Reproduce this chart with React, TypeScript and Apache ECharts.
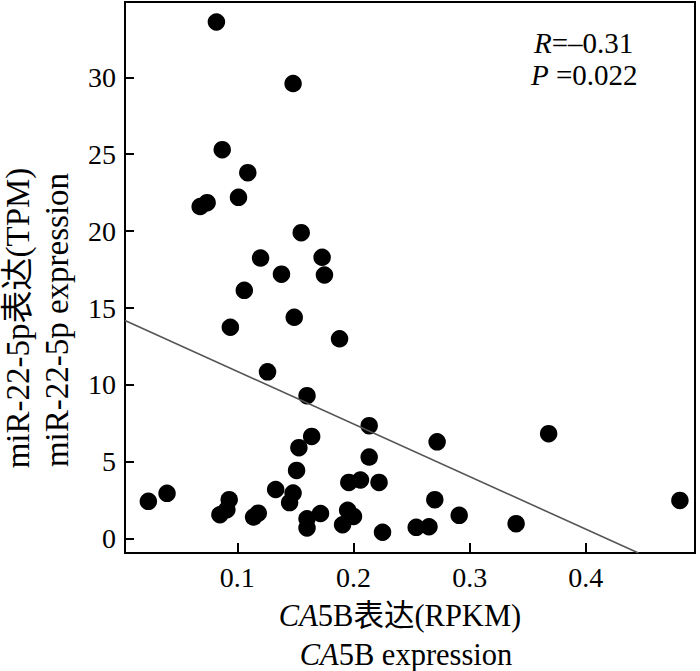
import React, { useEffect, useRef } from "react";
import * as echarts from "echarts";

// CA5B expression (RPKM)
const xValues: number[] = [
  0.082, 0.148, 0.087, 0.109, 0.101, 0.068, 0.074, 0.155, 0.12, 0.173,
  0.138, 0.175, 0.106, 0.149, 0.094, 0.188, 0.126, 0.16, 0.2135, 0.368,
  0.272, 0.164, 0.153, 0.2135, 0.151, 0.196, 0.206, 0.222, 0.133, 0.148,
  0.145, 0.0234, 0.0395, 0.093, 0.091, 0.085, 0.114, 0.118, 0.16, 0.16,
  0.1716, 0.195, 0.2, 0.1906, 0.225, 0.27, 0.481, 0.291, 0.34, 0.254, 0.265,
];
// miR-22-5p expression (TPM)
const yValues: number[] = [
  33.6, 29.6, 25.3, 23.8, 22.2, 21.6, 21.85, 19.9, 18.25, 18.3,
  17.2, 17.15, 16.15, 14.4, 13.75, 13.0, 10.85, 9.3, 7.35, 6.83,
  6.3, 6.65, 5.92, 5.31, 4.44, 3.66, 3.82, 3.66, 3.2, 2.97,
  2.35, 2.43, 2.95, 2.54, 1.89, 1.56, 1.41, 1.66, 1.3, 0.7,
  1.64, 1.85, 1.45, 0.91, 0.42, 2.54, 2.49, 1.52, 0.98, 0.74, 0.78,
];

const xTicks: number[] = [0.1, 0.2, 0.3, 0.4];
const yTicks: number[] = [0, 5, 10, 15, 20, 25, 30];

const xMin = 0.0033;
const xMax = 0.494;
const yMin = -0.93;
const yMax = 34.9;

// linear fit
const fitIntercept = 14.3;
const fitSlope = -34.2;

const statR = "–0.31";
const statP = "0.022";

const FONT = "Liberation Serif, Noto Sans CJK SC, serif";

export default function App() {
  const ref = useRef<HTMLDivElement | null>(null);

  useEffect(() => {
    document.body.style.margin = "0";
    if (!ref.current) return;
    const chart = echarts.init(ref.current, null, { renderer: "svg" });

    const points = xValues.map((x, i) => [x, yValues[i]]);
    const xEnd = (yMin - fitIntercept) / fitSlope;
    const fitLine = [
      [xMin, fitIntercept + fitSlope * xMin],
      [xEnd, yMin],
    ];

    const mkRich = (size: number) => ({
      i: { fontFamily: FONT, fontSize: size, fontStyle: "italic", fill: "#000", lineHeight: size },
      n: { fontFamily: FONT, fontSize: size, fill: "#000", lineHeight: size },
    });

    chart.setOption({
      animation: false,
      backgroundColor: "#fff",
      grid: {
        left: 125,
        right: 5,
        top: 2,
        bottom: 118,
        show: true,
        borderColor: "#000",
        borderWidth: 2,
        backgroundColor: "transparent",
        outerBoundsMode: "none",
      },
      xAxis: {
        type: "value",
        min: xMin,
        max: xMax,
        axisLine: { show: true, onZero: false, lineStyle: { color: "#000", width: 2 } },
        axisTick: {
          show: true,
          inside: true,
          length: 10,
          customValues: xTicks,
          lineStyle: { color: "#000", width: 2 },
        },
        axisLabel: {
          customValues: xTicks,
          color: "#000",
          fontFamily: FONT,
          fontSize: 28,
          margin: 10,
        },
        splitLine: { show: false },
      },
      yAxis: {
        type: "value",
        min: yMin,
        max: yMax,
        axisLine: { show: true, onZero: false, lineStyle: { color: "#000", width: 2 } },
        axisTick: {
          show: true,
          inside: true,
          length: 9,
          customValues: yTicks,
          lineStyle: { color: "#000", width: 2 },
        },
        axisLabel: {
          customValues: yTicks,
          color: "#000",
          fontFamily: FONT,
          fontSize: 28,
          margin: 9,
        },
        splitLine: { show: false },
      },
      series: [
        {
          type: "scatter",
          data: points,
          symbol: "circle",
          symbolSize: 17.5,
          itemStyle: { color: "#000", opacity: 1 },
          z: 2,
        },
        {
          type: "line",
          data: fitLine,
          symbol: "none",
          lineStyle: { color: "#555", width: 1.6 },
          z: 3,
        },
      ],
      graphic: [
        {
          type: "text",
          x: 534,
          y: 43,
          z: 10,
          style: {
            text: `{i|R}{n|=${statR}}`,
            align: "left",
            verticalAlign: "middle",
            rich: mkRich(29),
          },
        },
        {
          type: "text",
          x: 531,
          y: 75,
          z: 10,
          style: {
            text: `{i|P}{n| =${statP}}`,
            align: "left",
            verticalAlign: "middle",
            rich: mkRich(29),
          },
        },
        {
          type: "text",
          x: 400,
          y: 616,
          style: {
            text: "{i|CA}{n|5B表达(RPKM)}",
            align: "center",
            verticalAlign: "middle",
            rich: mkRich(30.5),
          },
        },
        {
          type: "text",
          x: 406,
          y: 655,
          style: {
            text: "{i|CA}{n|5B expression}",
            align: "center",
            verticalAlign: "middle",
            rich: mkRich(30.5),
          },
        },
        {
          type: "text",
          x: 18,
          y: 318,
          rotation: Math.PI / 2,
          style: {
            text: "miR-22-5p表达(TPM)",
            align: "center",
            verticalAlign: "middle",
            fontFamily: FONT,
            fontSize: 33,
            fill: "#000",
          },
        },
        {
          type: "text",
          x: 57,
          y: 320,
          rotation: Math.PI / 2,
          style: {
            text: "miR-22-5p expression",
            align: "center",
            verticalAlign: "middle",
            fontFamily: FONT,
            fontSize: 33,
            fill: "#000",
          },
        },
      ],
    });

    return () => {
      chart.dispose();
    };
  }, []);

  return <div ref={ref} style={{ width: 700, height: 671 }} />;
}
